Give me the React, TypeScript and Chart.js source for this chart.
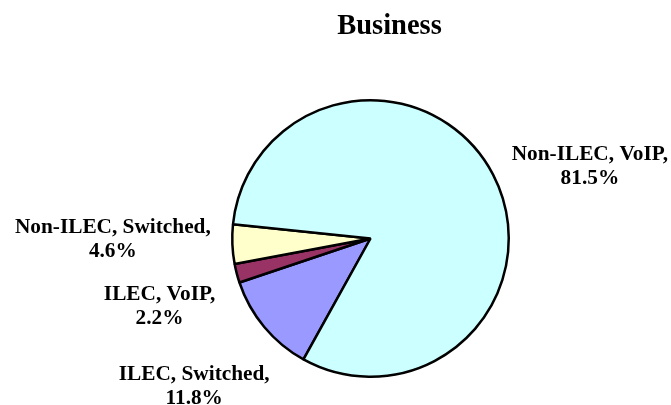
import React, { useEffect, useRef } from 'react';
import { Chart, registerables } from 'chart.js';

Chart.register(...registerables);

const chartTitle = 'Business';
const categories = ['ILEC, Switched', 'ILEC, VoIP', 'Non-ILEC, Switched', 'Non-ILEC, VoIP'];
const shares = [11.8, 2.2, 4.6, 81.5];
const sliceColors = ['#9999FF', '#993366', '#FFFFCC', '#CCFFFF'];

const FONT = '"Liberation Serif", "Times New Roman", serif';
const TITLE_SIZE = 28.5;
const LABEL_SIZE = 21.3;
const LINE_HEIGHT = 24;
const CAP_HEIGHT = 14;
const LABEL_GAP = 21;
const MIN_LABEL_SEPARATION = 67;

const pieLabels = {
  id: 'pieLabels',
  afterDraw(chart: any) {
    const ctx = chart.ctx as CanvasRenderingContext2D;
    const area = chart.chartArea;
    const meta = chart.getDatasetMeta(0);
    ctx.save();
    ctx.fillStyle = '#000000';
    ctx.textAlign = 'center';
    ctx.textBaseline = 'alphabetic';

    // title
    ctx.font = `bold ${TITLE_SIZE}px ${FONT}`;
    const pieCx = (area.left + area.right) / 2;
    ctx.fillText(chartTitle, pieCx + 19, 34);

    // slice labels placed just outside each slice's mid-angle
    ctx.font = `bold ${LABEL_SIZE}px ${FONT}`;
    const items: any[] = meta.data.map((arc: any, i: number) => {
      const p = arc.getProps(['x', 'y', 'startAngle', 'endAngle', 'outerRadius'], true);
      const mid = (p.startAngle + p.endAngle) / 2;
      const ux = Math.cos(mid);
      const uy = Math.sin(mid);
      const lines = [categories[i] + ',', shares[i].toFixed(1) + '%'];
      const w = Math.max(...lines.map((l) => ctx.measureText(l).width));
      const h = LINE_HEIGHT * (lines.length - 1) + CAP_HEIGHT;
      let cx: number;
      let cy: number;
      if (uy < 0) {
        // upper half: block hangs sideways from the anchor point
        const R = p.outerRadius + LABEL_GAP;
        cx = p.x + ux * R + Math.sign(ux) * w / 2;
        cy = p.y + uy * R;
      } else {
        // lower half: block pushed out along the ray until it clears the pie
        const d = p.outerRadius + LABEL_GAP + Math.abs(ux) * w / 2 + Math.abs(uy) * h / 2;
        cx = p.x + ux * d;
        cy = p.y + uy * d;
      }
      return { lines, h, side: ux < 0 ? 'L' : 'R', cx, cy };
    });

    // spread labels on the same side that are too close vertically
    ['L', 'R'].forEach((side) => {
      const group = items.filter((it) => it.side === side).sort((a, b) => a.cy - b.cy);
      for (let k = 1; k < group.length; k++) {
        const a = group[k - 1];
        const b = group[k];
        const diff = b.cy - a.cy;
        if (diff < MIN_LABEL_SEPARATION) {
          const push = (MIN_LABEL_SEPARATION - diff) / 2;
          a.cy -= push;
          b.cy += push;
        }
      }
    });

    items.forEach((it) => {
      it.lines.forEach((l: string, k: number) => {
        ctx.fillText(l, it.cx, it.cy - it.h / 2 + CAP_HEIGHT + k * LINE_HEIGHT);
      });
    });
    ctx.restore();
  },
};

export default function App() {
  const canvasRef = useRef<HTMLCanvasElement | null>(null);

  useEffect(() => {
    document.body.style.margin = '0';
    const canvas = canvasRef.current;
    if (!canvas) return;
    const chart = new Chart(canvas, {
      type: 'pie',
      data: {
        labels: categories,
        datasets: [
          {
            data: shares,
            backgroundColor: sliceColors,
            borderColor: '#000000',
            borderWidth: 2.5,
            borderAlign: 'center',
          },
        ],
      },
      options: {
        responsive: false,
        animation: false,
        rotation: 209,
        layout: {
          padding: { left: 231, right: 161, top: 99, bottom: 27 },
        },
        plugins: {
          legend: { display: false },
          title: { display: false },
          tooltip: { enabled: false },
        },
      },
      plugins: [pieLabels],
    });
    return () => chart.destroy();
  }, []);

  return (
    <div style={{ width: 671, height: 405, background: '#ffffff' }}>
      <canvas ref={canvasRef} width={671} height={405} style={{ display: 'block' }} />
    </div>
  );
}
